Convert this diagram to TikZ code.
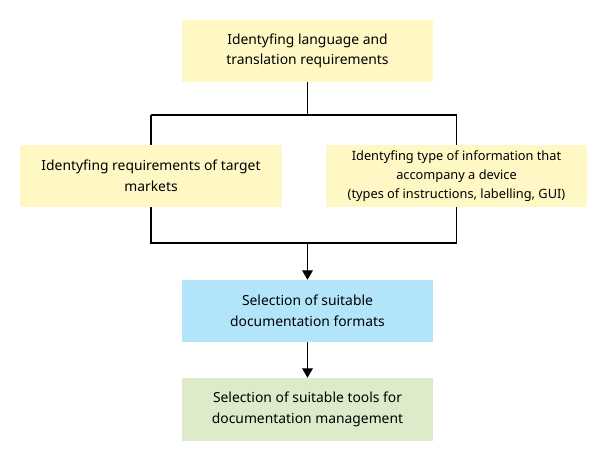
\documentclass[tikz,border=0pt]{standalone}
\usepackage{fontspec}
\setmainfont{Noto Sans}
\usetikzlibrary{arrows.meta}
\definecolor{ylw}{RGB}{255,248,197}
\definecolor{blu}{RGB}{179,229,250}
\definecolor{grn}{RGB}{221,235,203}
\begin{document}
\begin{tikzpicture}[x=0.75pt,y=-0.75pt,
  box/.style={minimum width=251*0.75pt,minimum height=62*0.75pt,inner sep=0pt,align=center,font=\fontsize{10.4}{15.5}\selectfont},
  smallbox/.style={box,font=\fontsize{9.6}{14}\selectfont},
  conn/.style={line width=0.8pt},
  arr/.style={conn,-{Triangle[length=7pt,width=8pt]}}]
\useasboundingbox (0,0) rectangle (606,458);
\node[box,fill=ylw] (top) at (307.5,51) {Identyfing language and\\translation requirements};
\node[box,fill=ylw,minimum width=262*0.75pt] (left) at (151,176) {Identyfing requirements of target\\markets};
\node[smallbox,fill=ylw,minimum width=261*0.75pt] (right) at (456.5,176) {Identyfing type of information that\\accompany a device\\(types of instructions, labelling, GUI)};
\node[box,fill=blu] (fmt) at (307.5,311) {Selection of suitable\\documentation formats};
\node[box,fill=grn,minimum height=63*0.75pt] (tools) at (307.5,409.5) {Selection of suitable tools for\\documentation management};
\coordinate (hj) at (307.5,115);
\coordinate (lj) at (307.5,243);
\draw[conn] (top.south) -- (hj);
\draw[conn] (left.north |- hj) -- (right.north |- hj);
\draw[conn] (left.north |- hj) -- (left.north);
\draw[conn] (right.north |- hj) -- (right.north);
\draw[conn] (left.south) -- (left.south |- lj) -- (right.south |- lj) -- (right.south);
\draw[arr] (lj) -- (fmt.north);
\draw[arr] (fmt.south) -- (tools.north);
\end{tikzpicture}
\end{document}
